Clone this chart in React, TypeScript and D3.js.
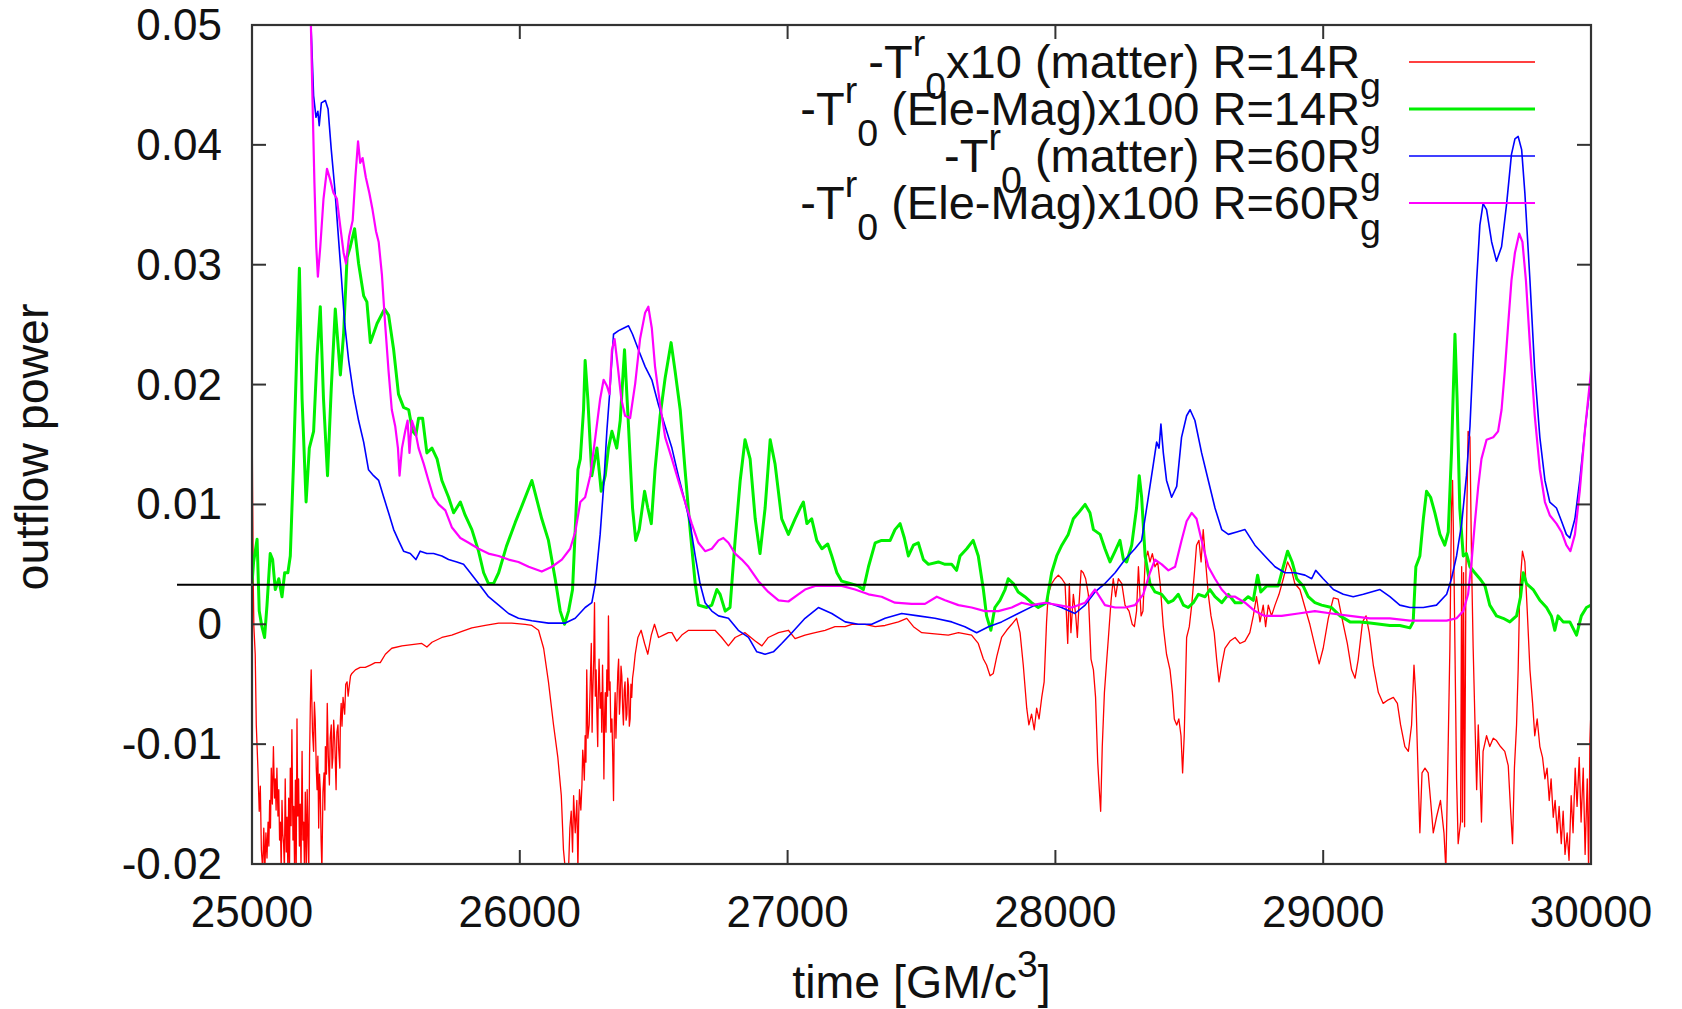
import React from "react";
import * as d3 from "d3";

type Pt = [number, number];

// Axis ticks
const TIME_TICKS = [25000, 26000, 27000, 28000, 29000, 30000];
const POWER_TICKS = [-0.02, -0.01, 0, 0.01, 0.02, 0.03, 0.04, 0.05];
const POWER_TICK_LABELS = ["-0.02", "-0.01", "0", "0.01", "0.02", "0.03", "0.04", "0.05"];

// -T^r_0 x10 (matter), R = 14 Rg   [time, power]
const matter14: Pt[] = [
  [25000, 19.2e-3], [25002, 11.5e-3], [25005, 2.9e-3], [25007, -0.2e-3], [25012, -2.5e-3], [25016, -8.4e-3],
  [25022, -12.0e-3], [25027, -15.6e-3], [25031, -13.5e-3], [25035, -18.8e-3], [25040, -20.5e-3], [25044, -17.0e-3],
  [25048, -20.5e-3], [25052, -17.4e-3], [25056, -19.5e-3], [25060, -16.5e-3], [25063, -18.5e-3], [25066, -14.7e-3],
  [25069, -17.0e-3], [25072, -12.0e-3], [25076, -15.0e-3], [25080, -10.2e-3], [25084, -14.5e-3], [25087, -12.9e-3],
  [25090, -15.5e-3], [25093, -12.0e-3], [25097, -16.0e-3], [25100, -13.8e-3], [25103, -18.0e-3], [25106, -16.5e-3],
  [25109, -20.5e-3], [25112, -14.7e-3], [25115, -17.5e-3], [25118, -18.3e-3], [25121, -20.5e-3], [25124, -12.9e-3],
  [25128, -19.0e-3], [25131, -16.1e-3], [25134, -20.5e-3], [25137, -14.5e-3], [25140, -20.5e-3], [25143, -12.0e-3],
  [25146, -16.8e-3], [25149, -8.8e-3], [25153, -18.0e-3], [25156, -15.2e-3], [25159, -20.5e-3], [25162, -13.0e-3],
  [25165, -20.5e-3], [25168, -7.9e-3], [25171, -16.0e-3], [25174, -12.9e-3], [25177, -18.5e-3], [25180, -15.0e-3],
  [25183, -20.5e-3], [25187, -10.6e-3], [25190, -18.0e-3], [25193, -16.5e-3], [25196, -20.5e-3], [25199, -14.0e-3],
  [25203, -20.5e-3], [25206, -13.8e-3], [25209, -17.5e-3], [25212, -20.5e-3], [25215, -11.0e-3], [25218, -6.6e-3],
  [25221, -3.8e-3], [25226, -9.0e-3], [25230, -10.6e-3], [25233, -6.5e-3], [25236, -7.9e-3], [25240, -12.0e-3],
  [25243, -13.8e-3], [25246, -11.0e-3], [25249, -17.0e-3], [25252, -12.5e-3], [25255, -13.8e-3], [25258, -18.0e-3],
  [25261, -20.5e-3], [25265, -14.0e-3], [25269, -12.4e-3], [25272, -15.5e-3], [25274, -10.2e-3], [25278, -12.5e-3],
  [25281, -6.6e-3], [25285, -11.0e-3], [25289, -13.4e-3], [25292, -9.5e-3], [25296, -8.4e-3], [25299, -12.0e-3],
  [25302, -11.1e-3], [25305, -8.0e-3], [25309, -9.7e-3], [25314, -13.8e-3], [25317, -9.0e-3], [25321, -8.4e-3],
  [25324, -10.5e-3], [25328, -12.0e-3], [25330, -8.0e-3], [25333, -6.6e-3], [25336, -8.5e-3], [25340, -6.1e-3],
  [25346, -7.5e-3], [25350, -5.0e-3], [25355, -4.8e-3], [25359, -6.0e-3], [25363, -5.2e-3], [25368, -4.3e-3],
  [25373, -4.1e-3], [25386, -3.8e-3], [25404, -3.6e-3], [25423, -3.6e-3], [25442, -3.4e-3], [25460, -3.2e-3],
  [25479, -3.2e-3], [25498, -2.5e-3], [25522, -2.0e-3], [25560, -1.8e-3], [25597, -1.7e-3], [25634, -1.6e-3],
  [25653, -1.9e-3], [25672, -1.5e-3], [25709, -1.1e-3], [25746, -0.9e-3], [25784, -0.6e-3], [25821, -0.3e-3],
  [25871, -0.1e-3], [25921, 0.1e-3], [25970, 0.1e-3], [26020, 0.0], [26045, -0.1e-3], [26070, -0.5e-3],
  [26089, -2.0e-3], [26107, -4.8e-3], [26126, -8.4e-3], [26142, -11.1e-3], [26155, -14.3e-3], [26163, -18.8e-3],
  [26170, -20.5e-3], [26182, -20.5e-3], [26187, -17.0e-3], [26192, -15.6e-3], [26197, -19.0e-3], [26201, -14.3e-3],
  [26207, -17.4e-3], [26213, -14.7e-3], [26217, -20.5e-3], [26220, -16.0e-3], [26223, -13.8e-3], [26228, -15.5e-3],
  [26232, -13.4e-3], [26235, -10.5e-3], [26238, -11.5e-3], [26241, -13.0e-3], [26244, -9.3e-3], [26247, -11.5e-3],
  [26250, -3.8e-3], [26254, -9.5e-3], [26259, -8.4e-3], [26263, -5.0e-3], [26267, -1.6e-3], [26270, -9.0e-3],
  [26272, -6.1e-3], [26276, -3.0e-3], [26279, 1.8e-3], [26282, -6.0e-3], [26285, -3.8e-3], [26288, -7.5e-3],
  [26291, -10.2e-3], [26293, -6.0e-3], [26296, -2.9e-3], [26300, -7.0e-3], [26304, -5.7e-3], [26306, -9.0e-3],
  [26309, -3.4e-3], [26312, -8.0e-3], [26314, -12.9e-3], [26317, -7.5e-3], [26319, -5.7e-3], [26322, -9.0e-3],
  [26325, -3.8e-3], [26328, -6.0e-3], [26331, 0.7e-3], [26334, -5.5e-3], [26337, -4.8e-3], [26340, -9.0e-3],
  [26344, -7.9e-3], [26347, -11.0e-3], [26350, -14.7e-3], [26353, -8.0e-3], [26356, -5.7e-3], [26359, -9.5e-3],
  [26362, -7.0e-3], [26366, -4.0e-3], [26369, -2.9e-3], [26372, -7.5e-3], [26375, -6.1e-3], [26378, -3.5e-3],
  [26381, -4.3e-3], [26384, -7.0e-3], [26387, -8.4e-3], [26390, -5.5e-3], [26393, -4.8e-3], [26397, -8.0e-3],
  [26400, -7.5e-3], [26403, -4.5e-3], [26406, -5.2e-3], [26409, -8.5e-3], [26412, -7.9e-3], [26415, -5.0e-3],
  [26418, -6.1e-3], [26421, -4.5e-3], [26425, -3.8e-3], [26431, -2.5e-3], [26441, -1.1e-3], [26453, -0.5e-3],
  [26466, -1.6e-3], [26478, -2.5e-3], [26491, -0.9e-3], [26503, 0.0], [26518, -1.1e-3], [26536, -0.9e-3],
  [26555, -0.7e-3], [26568, -0.7e-3], [26586, -1.4e-3], [26605, -0.9e-3], [26630, -0.5e-3], [26680, -0.5e-3],
  [26729, -0.5e-3], [26754, -1.1e-3], [26779, -1.8e-3], [26804, -1.1e-3], [26841, -0.7e-3], [26879, -1.4e-3],
  [26904, -1.8e-3], [26928, -1.1e-3], [26966, -0.7e-3], [27003, -0.5e-3], [27028, -1.2e-3], [27065, -0.9e-3],
  [27103, -0.7e-3], [27140, -0.5e-3], [27177, -0.2e-3], [27215, -0.2e-3], [27240, 0.0], [27289, 0.0],
  [27327, -0.2e-3], [27364, -0.1e-3], [27414, 0.2e-3], [27445, 0.5e-3], [27470, -0.2e-3], [27501, -0.7e-3],
  [27550, -0.8e-3], [27600, -0.9e-3], [27638, -0.7e-3], [27687, -0.9e-3], [27712, -1.6e-3], [27731, -2.9e-3],
  [27743, -3.4e-3], [27756, -4.3e-3], [27768, -4.1e-3], [27781, -2.7e-3], [27799, -1.1e-3], [27818, -0.5e-3],
  [27837, 0.0], [27855, 0.5e-3], [27868, -0.7e-3], [27880, -3.4e-3], [27893, -7.0e-3], [27901, -8.4e-3],
  [27911, -7.5e-3], [27921, -8.8e-3], [27930, -7.0e-3], [27939, -7.9e-3], [27949, -6.1e-3], [27958, -4.8e-3],
  [27967, 0.2e-3], [27973, 2.5e-3], [27986, 3.4e-3], [27998, 3.8e-3], [28011, 4.1e-3], [28024, 3.8e-3],
  [28036, 3.4e-3], [28046, -1.6e-3], [28052, 3.4e-3], [28058, -0.7e-3], [28067, 2.5e-3], [28076, 0.7e-3],
  [28082, -1.1e-3], [28088, 1.6e-3], [28096, 4.5e-3], [28104, 4.3e-3], [28113, 3.8e-3], [28123, 2.5e-3],
  [28133, -2.9e-3], [28142, -3.8e-3], [28150, -6.1e-3], [28158, -11.5e-3], [28164, -13.8e-3], [28169, -15.6e-3],
  [28175, -10.2e-3], [28183, -5.7e-3], [28192, -2.9e-3], [28198, -1.1e-3], [28208, 2.0e-3], [28216, 3.8e-3],
  [28225, 2.3e-3], [28235, 3.8e-3], [28248, 3.4e-3], [28260, 1.6e-3], [28275, 1.1e-3], [28287, 0.0],
  [28295, -0.2e-3], [28303, 1.1e-3], [28310, 4.8e-3], [28320, 0.7e-3], [28327, 1.1e-3], [28335, 5.2e-3],
  [28345, 6.1e-3], [28353, 5.2e-3], [28362, 5.9e-3], [28372, 4.8e-3], [28382, 5.2e-3], [28391, 3.4e-3],
  [28403, -0.2e-3], [28415, -2.5e-3], [28428, -3.8e-3], [28437, -5.7e-3], [28444, -7.9e-3], [28453, -8.4e-3],
  [28461, -7.9e-3], [28469, -9.3e-3], [28475, -12.4e-3], [28481, -9.3e-3], [28490, -1.1e-3], [28500, -0.2e-3],
  [28509, 1.6e-3], [28519, 4.3e-3], [28527, 6.6e-3], [28536, 7.0e-3], [28544, 5.2e-3], [28552, 7.9e-3],
  [28561, 5.2e-3], [28571, 2.5e-3], [28581, 0.7e-3], [28593, -0.7e-3], [28602, -2.9e-3], [28611, -4.8e-3],
  [28621, -3.4e-3], [28633, -2.0e-3], [28652, -1.4e-3], [28671, -1.1e-3], [28689, -1.6e-3], [28708, -1.4e-3],
  [28726, -0.7e-3], [28739, 0.7e-3], [28751, 2.3e-3], [28764, 0.2e-3], [28776, 1.6e-3], [28785, -0.2e-3],
  [28795, 1.6e-3], [28807, 0.7e-3], [28820, 1.6e-3], [28835, 2.5e-3], [28851, 3.8e-3], [28867, 5.2e-3],
  [28882, 4.5e-3], [28894, 3.4e-3], [28913, 2.9e-3], [28932, 1.4e-3], [28950, 0.0], [28969, -1.8e-3],
  [28985, -3.3e-3], [29000, -2.0e-3], [29019, 0.5e-3], [29038, 2.2e-3], [29056, 2.1e-3], [29075, 0.0],
  [29090, -1.6e-3], [29106, -3.8e-3], [29119, -4.5e-3], [29131, -2.9e-3], [29147, 0.2e-3], [29160, 0.7e-3],
  [29172, -0.7e-3], [29187, -3.4e-3], [29206, -5.7e-3], [29224, -6.6e-3], [29243, -6.3e-3], [29262, -6.1e-3],
  [29277, -6.6e-3], [29289, -8.4e-3], [29305, -10.2e-3], [29318, -10.6e-3], [29330, -8.4e-3], [29339, -3.4e-3],
  [29346, -6.1e-3], [29355, -12.9e-3], [29361, -17.4e-3], [29369, -12.4e-3], [29380, -12.0e-3], [29392, -12.4e-3],
  [29401, -14.7e-3], [29411, -17.4e-3], [29423, -16.1e-3], [29438, -14.7e-3], [29451, -17.4e-3], [29458, -20.5e-3],
  [29467, -9.7e-3], [29473, -2.0e-3], [29479, 9.7e-3], [29483, 12.0e-3], [29488, 5.2e-3], [29498, -12.9e-3],
  [29504, -18.3e-3], [29513, -16.5e-3], [29517, 4.8e-3], [29520, -16.5e-3], [29524, 4.3e-3], [29528, -16.9e-3],
  [29533, 4.3e-3], [29541, 16.1e-3], [29548, 15.6e-3], [29554, 5.2e-3], [29560, -2.0e-3], [29566, -7.5e-3],
  [29573, -13.8e-3], [29579, -8.4e-3], [29585, -12.0e-3], [29591, -16.5e-3], [29597, -10.6e-3], [29610, -9.3e-3],
  [29622, -10.2e-3], [29635, -9.5e-3], [29647, -9.7e-3], [29662, -10.2e-3], [29678, -10.6e-3], [29691, -11.8e-3],
  [29699, -15.2e-3], [29707, -18.3e-3], [29714, -12.0e-3], [29722, -8.4e-3], [29728, -3.8e-3], [29734, 2.9e-3],
  [29744, 6.1e-3], [29753, 5.2e-3], [29762, 1.1e-3], [29772, -3.8e-3], [29782, -6.6e-3], [29790, -9.3e-3],
  [29799, -7.9e-3], [29809, -10.2e-3], [29819, -11.1e-3], [29828, -12.9e-3], [29836, -12.0e-3], [29844, -14.7e-3],
  [29851, -12.9e-3], [29859, -16.1e-3], [29866, -14.7e-3], [29874, -17.4e-3], [29881, -15.2e-3], [29889, -18.3e-3],
  [29896, -15.6e-3], [29903, -19.2e-3], [29911, -17.4e-3], [29918, -19.7e-3], [29926, -14.3e-3], [29933, -17.4e-3],
  [29941, -12.0e-3], [29948, -15.2e-3], [29956, -11.1e-3], [29963, -16.5e-3], [29971, -12.0e-3], [29978, -19.2e-3],
  [29986, -12.9e-3], [29991, -20.5e-3], [29996, -9.7e-3], [30000, -7.0e-3],
];

// -T^r_0 (Ele-Mag) x100, R = 14 Rg
const em14: Pt[] = [
  [25000, 3.4e-3], [25006, 5.2e-3], [25019, 7.1e-3], [25027, 1.1e-3], [25037, -0.2e-3], [25047, -1.1e-3],
  [25056, 1.6e-3], [25068, 5.9e-3], [25077, 5.4e-3], [25087, 2.9e-3], [25100, 3.8e-3], [25112, 2.3e-3],
  [25122, 4.3e-3], [25134, 4.3e-3], [25143, 5.7e-3], [25155, 13.4e-3], [25168, 23.3e-3], [25177, 29.7e-3],
  [25187, 18.8e-3], [25202, 10.2e-3], [25214, 14.7e-3], [25230, 16.1e-3], [25243, 22.4e-3], [25255, 26.5e-3],
  [25267, 18.8e-3], [25282, 12.4e-3], [25296, 19.7e-3], [25311, 26.3e-3], [25330, 20.8e-3], [25342, 24.2e-3],
  [25355, 30.6e-3], [25367, 31.5e-3], [25383, 33.0e-3], [25398, 30.1e-3], [25417, 27.4e-3], [25429, 26.9e-3],
  [25442, 23.5e-3], [25467, 25.1e-3], [25495, 26.3e-3], [25510, 25.8e-3], [25529, 22.9e-3], [25547, 19.2e-3],
  [25566, 18.1e-3], [25585, 17.9e-3], [25600, 16.1e-3], [25612, 15.8e-3], [25622, 17.2e-3], [25637, 17.2e-3],
  [25653, 14.3e-3], [25672, 14.7e-3], [25691, 13.8e-3], [25709, 12.0e-3], [25734, 10.6e-3], [25753, 9.3e-3],
  [25778, 10.2e-3], [25796, 9.1e-3], [25821, 7.9e-3], [25846, 6.1e-3], [25865, 4.3e-3], [25883, 3.4e-3],
  [25902, 3.4e-3], [25921, 4.3e-3], [25950, 6.5e-3], [25983, 8.5e-3], [26010, 10.0e-3], [26045, 12.0e-3],
  [26082, 8.8e-3], [26107, 7.0e-3], [26132, 3.8e-3], [26151, 1.1e-3], [26167, 0.0], [26182, 1.1e-3],
  [26197, 2.9e-3], [26207, 7.9e-3], [26217, 12.9e-3], [26226, 13.8e-3], [26238, 17.9e-3], [26244, 22.0e-3],
  [26254, 18.8e-3], [26269, 12.4e-3], [26288, 14.7e-3], [26304, 11.1e-3], [26319, 12.4e-3], [26331, 14.7e-3],
  [26344, 16.1e-3], [26362, 14.7e-3], [26375, 17.0e-3], [26391, 22.9e-3], [26406, 16.5e-3], [26421, 9.7e-3],
  [26433, 7.0e-3], [26446, 7.9e-3], [26466, 11.1e-3], [26478, 9.7e-3], [26491, 8.4e-3], [26505, 12.9e-3],
  [26524, 17.4e-3], [26543, 20.6e-3], [26565, 23.5e-3], [26580, 21.1e-3], [26599, 17.9e-3], [26617, 12.9e-3],
  [26636, 7.9e-3], [26655, 3.4e-3], [26667, 1.6e-3], [26698, 1.4e-3], [26717, 1.6e-3], [26736, 2.9e-3],
  [26748, 2.5e-3], [26767, 1.1e-3], [26785, 1.4e-3], [26804, 7.0e-3], [26823, 12.0e-3], [26841, 15.4e-3],
  [26860, 13.8e-3], [26879, 8.8e-3], [26897, 5.9e-3], [26916, 9.7e-3], [26935, 15.4e-3], [26953, 13.4e-3],
  [26978, 8.8e-3], [27003, 7.5e-3], [27028, 8.8e-3], [27047, 9.7e-3], [27059, 10.2e-3], [27072, 8.4e-3],
  [27090, 8.8e-3], [27109, 7.0e-3], [27128, 6.3e-3], [27150, 6.7e-3], [27165, 5.7e-3], [27184, 4.3e-3],
  [27202, 3.6e-3], [27233, 3.4e-3], [27264, 3.2e-3], [27283, 2.9e-3], [27302, 4.8e-3], [27327, 6.8e-3],
  [27351, 7.0e-3], [27383, 7.0e-3], [27401, 7.9e-3], [27420, 8.4e-3], [27436, 7.2e-3], [27451, 5.7e-3],
  [27470, 6.6e-3], [27488, 6.8e-3], [27507, 5.4e-3], [27526, 5.0e-3], [27563, 5.2e-3], [27588, 5.0e-3],
  [27613, 5.0e-3], [27631, 4.5e-3], [27644, 5.7e-3], [27669, 6.3e-3], [27693, 7.0e-3], [27712, 5.7e-3],
  [27731, 2.9e-3], [27743, 0.7e-3], [27759, -0.5e-3], [27774, 1.4e-3], [27793, 2.0e-3], [27812, 2.9e-3],
  [27824, 3.8e-3], [27843, 3.4e-3], [27861, 2.7e-3], [27886, 2.3e-3], [27911, 1.8e-3], [27936, 1.4e-3],
  [27967, 1.8e-3], [27986, 4.3e-3], [28005, 5.7e-3], [28024, 6.6e-3], [28048, 7.5e-3], [28067, 8.8e-3],
  [28086, 9.3e-3], [28111, 10.0e-3], [28129, 9.3e-3], [28142, 7.9e-3], [28167, 7.5e-3], [28185, 6.3e-3],
  [28204, 5.2e-3], [28223, 6.1e-3], [28241, 7.0e-3], [28254, 5.4e-3], [28266, 5.2e-3], [28285, 6.6e-3],
  [28303, 9.7e-3], [28313, 12.4e-3], [28322, 10.6e-3], [28335, 5.7e-3], [28353, 3.4e-3], [28372, 2.7e-3],
  [28397, 2.5e-3], [28422, 1.8e-3], [28440, 2.0e-3], [28459, 2.5e-3], [28478, 1.6e-3], [28496, 1.4e-3],
  [28515, 1.8e-3], [28534, 2.5e-3], [28559, 2.3e-3], [28577, 2.9e-3], [28596, 2.3e-3], [28621, 1.8e-3],
  [28646, 2.5e-3], [28671, 1.8e-3], [28695, 1.8e-3], [28720, 2.3e-3], [28739, 2.0e-3], [28755, 4.1e-3],
  [28767, 2.7e-3], [28789, 3.2e-3], [28814, 3.2e-3], [28832, 3.2e-3], [28851, 4.8e-3], [28867, 6.1e-3],
  [28884, 5.2e-3], [28901, 3.8e-3], [28925, 3.2e-3], [28944, 2.3e-3], [28969, 1.8e-3], [28994, 1.6e-3],
  [29031, 1.4e-3], [29063, 0.7e-3], [29100, 0.2e-3], [29137, 0.2e-3], [29175, 0.1e-3], [29212, 0.0],
  [29249, -0.1e-3], [29286, -0.1e-3], [29324, -0.3e-3], [29336, 0.2e-3], [29346, 4.8e-3], [29361, 5.7e-3],
  [29374, 8.8e-3], [29386, 11.1e-3], [29401, 10.6e-3], [29417, 9.3e-3], [29436, 7.5e-3], [29454, 6.6e-3],
  [29467, 7.7e-3], [29479, 14.3e-3], [29492, 24.2e-3], [29500, 18.8e-3], [29510, 9.7e-3], [29523, 5.7e-3],
  [29535, 5.9e-3], [29548, 4.8e-3], [29566, 4.3e-3], [29585, 3.8e-3], [29604, 3.2e-3], [29622, 1.6e-3],
  [29647, 0.7e-3], [29672, 0.5e-3], [29697, 0.2e-3], [29722, 0.7e-3], [29737, 2.3e-3], [29747, 4.3e-3],
  [29759, 3.4e-3], [29784, 2.9e-3], [29809, 2.0e-3], [29834, 1.4e-3], [29852, 0.7e-3], [29865, -0.5e-3],
  [29877, 0.7e-3], [29896, 0.2e-3], [29921, 0.2e-3], [29946, -0.9e-3], [29964, 0.7e-3], [29983, 1.4e-3],
  [30000, 1.6e-3],
];

// -T^r_0 (matter), R = 60 Rg
const matter60: Pt[] = [
  [25000, 90e-3], [25210, 56e-3], [25224, 47.8e-3], [25230, 44.1e-3], [25239, 42.3e-3], [25246, 42.8e-3],
  [25251, 41.6e-3], [25259, 43.5e-3], [25274, 43.7e-3], [25284, 43.0e-3], [25296, 39.6e-3], [25309, 36.4e-3],
  [25321, 32.8e-3], [25333, 29.2e-3], [25346, 25.1e-3], [25361, 22.0e-3], [25379, 19.2e-3], [25398, 17.0e-3],
  [25417, 15.2e-3], [25435, 12.9e-3], [25454, 12.4e-3], [25473, 12.0e-3], [25492, 10.6e-3], [25510, 9.3e-3],
  [25529, 7.9e-3], [25547, 7.0e-3], [25566, 6.1e-3], [25591, 5.9e-3], [25612, 5.4e-3], [25628, 6.1e-3],
  [25653, 5.9e-3], [25678, 5.9e-3], [25709, 5.7e-3], [25734, 5.4e-3], [25765, 5.2e-3], [25790, 5.0e-3],
  [25815, 4.3e-3], [25846, 3.4e-3], [25883, 2.3e-3], [25921, 1.6e-3], [25958, 0.9e-3], [25995, 0.5e-3],
  [26045, 0.3e-3], [26107, 0.1e-3], [26170, 0.1e-3], [26207, 0.5e-3], [26244, 1.4e-3], [26269, 1.8e-3],
  [26282, 3.4e-3], [26300, 7.5e-3], [26313, 11.5e-3], [26325, 16.1e-3], [26337, 19.7e-3], [26350, 24.2e-3],
  [26369, 24.5e-3], [26387, 24.7e-3], [26406, 24.9e-3], [26421, 24.2e-3], [26443, 22.9e-3], [26468, 21.5e-3],
  [26493, 20.4e-3], [26518, 18.3e-3], [26543, 16.5e-3], [26568, 14.7e-3], [26592, 12.4e-3], [26617, 10.2e-3],
  [26636, 8.4e-3], [26655, 5.7e-3], [26673, 3.4e-3], [26692, 1.8e-3], [26717, 1.1e-3], [26742, 0.7e-3],
  [26779, 0.5e-3], [26816, -0.5e-3], [26854, -1.1e-3], [26885, -2.3e-3], [26916, -2.5e-3], [26947, -2.3e-3],
  [26978, -1.6e-3], [27016, -0.7e-3], [27065, 0.5e-3], [27115, 1.4e-3], [27165, 0.9e-3], [27215, 0.2e-3],
  [27264, 0.0], [27314, 0.0], [27364, 0.5e-3], [27426, 0.9e-3], [27488, 0.7e-3], [27550, 0.5e-3],
  [27613, 0.2e-3], [27662, -0.2e-3], [27706, -0.7e-3], [27750, -0.2e-3], [27799, 0.2e-3], [27861, 0.9e-3],
  [27924, 1.6e-3], [27973, 1.8e-3], [28023, 1.4e-3], [28073, 0.9e-3], [28111, 1.6e-3], [28148, 2.7e-3],
  [28185, 3.4e-3], [28223, 4.3e-3], [28260, 5.4e-3], [28297, 6.3e-3], [28322, 7.0e-3], [28347, 10.6e-3],
  [28366, 13.4e-3], [28378, 15.2e-3], [28387, 14.7e-3], [28394, 16.7e-3], [28403, 14.3e-3], [28415, 12.0e-3],
  [28434, 10.6e-3], [28453, 11.5e-3], [28471, 15.6e-3], [28490, 17.4e-3], [28503, 17.9e-3], [28521, 17.0e-3],
  [28546, 14.3e-3], [28571, 12.0e-3], [28596, 9.7e-3], [28621, 7.9e-3], [28646, 7.5e-3], [28677, 7.7e-3],
  [28708, 7.9e-3], [28745, 6.6e-3], [28782, 5.7e-3], [28820, 4.8e-3], [28857, 4.3e-3], [28894, 4.3e-3],
  [28932, 4.1e-3], [28957, 3.8e-3], [28972, 4.5e-3], [29000, 3.8e-3], [29038, 2.9e-3], [29075, 2.5e-3],
  [29112, 2.3e-3], [29150, 2.5e-3], [29212, 2.9e-3], [29249, 2.3e-3], [29286, 1.6e-3], [29324, 1.4e-3],
  [29374, 1.4e-3], [29423, 1.6e-3], [29461, 2.5e-3], [29479, 3.8e-3], [29498, 5.7e-3], [29517, 8.4e-3],
  [29535, 12.4e-3], [29548, 16.5e-3], [29560, 22.4e-3], [29573, 28.7e-3], [29585, 33.3e-3], [29597, 35.1e-3],
  [29610, 34.6e-3], [29629, 31.9e-3], [29647, 30.3e-3], [29666, 31.5e-3], [29685, 35.1e-3], [29703, 39.2e-3],
  [29716, 40.5e-3], [29728, 40.7e-3], [29741, 39.6e-3], [29753, 36.0e-3], [29772, 28.7e-3], [29790, 21.1e-3],
  [29809, 15.6e-3], [29828, 12.0e-3], [29846, 10.2e-3], [29871, 9.7e-3], [29890, 8.6e-3], [29908, 7.5e-3],
  [29921, 7.2e-3], [29940, 8.8e-3], [29958, 12.0e-3], [29977, 16.1e-3], [30000, 20.6e-3],
];

// -T^r_0 (Ele-Mag) x100, R = 60 Rg
const em60: Pt[] = [
  [25000, 90e-3], [25210, 58e-3], [25218, 52e-3], [25226, 43.7e-3], [25233, 36.9e-3], [25240, 31.5e-3],
  [25246, 29.0e-3], [25255, 31.5e-3], [25267, 35.5e-3], [25280, 38.0e-3], [25292, 37.1e-3], [25304, 36.0e-3],
  [25317, 35.5e-3], [25329, 33.3e-3], [25342, 31.0e-3], [25351, 30.1e-3], [25363, 32.4e-3], [25376, 33.7e-3],
  [25386, 37.3e-3], [25396, 40.3e-3], [25404, 38.5e-3], [25413, 38.9e-3], [25425, 37.3e-3], [25438, 36.0e-3],
  [25450, 34.6e-3], [25463, 32.8e-3], [25473, 31.9e-3], [25485, 29.2e-3], [25497, 25.1e-3], [25510, 21.1e-3],
  [25522, 17.9e-3], [25535, 16.5e-3], [25545, 14.7e-3], [25551, 12.4e-3], [25560, 14.7e-3], [25572, 16.1e-3],
  [25581, 17.0e-3], [25588, 14.3e-3], [25597, 17.0e-3], [25610, 16.1e-3], [25622, 14.7e-3], [25641, 13.4e-3],
  [25659, 12.0e-3], [25678, 10.6e-3], [25697, 10.0e-3], [25722, 9.5e-3], [25746, 8.1e-3], [25778, 7.2e-3],
  [25809, 6.8e-3], [25846, 6.3e-3], [25883, 5.9e-3], [25921, 5.7e-3], [25958, 5.4e-3], [25995, 5.2e-3],
  [26033, 4.8e-3], [26082, 4.4e-3], [26120, 4.8e-3], [26157, 5.4e-3], [26188, 6.3e-3], [26207, 7.7e-3],
  [26226, 10.2e-3], [26244, 10.6e-3], [26263, 12.4e-3], [26282, 15.6e-3], [26300, 18.8e-3], [26313, 20.4e-3],
  [26325, 19.9e-3], [26335, 19.2e-3], [26344, 22.9e-3], [26354, 23.8e-3], [26366, 21.5e-3], [26379, 18.8e-3],
  [26393, 17.4e-3], [26412, 17.2e-3], [26431, 20.1e-3], [26449, 23.8e-3], [26468, 26.0e-3], [26480, 26.5e-3],
  [26493, 24.7e-3], [26505, 21.5e-3], [26524, 18.3e-3], [26543, 15.6e-3], [26568, 13.8e-3], [26592, 12.0e-3],
  [26617, 10.2e-3], [26642, 8.4e-3], [26667, 6.8e-3], [26692, 6.1e-3], [26717, 6.3e-3], [26742, 7.0e-3],
  [26760, 7.2e-3], [26779, 6.8e-3], [26804, 5.9e-3], [26829, 5.4e-3], [26854, 4.8e-3], [26891, 3.6e-3],
  [26928, 2.7e-3], [26966, 2.0e-3], [27003, 1.9e-3], [27040, 2.5e-3], [27065, 2.9e-3], [27103, 3.2e-3],
  [27152, 3.2e-3], [27202, 3.2e-3], [27252, 2.9e-3], [27302, 2.5e-3], [27351, 2.3e-3], [27401, 1.8e-3],
  [27463, 1.7e-3], [27513, 1.7e-3], [27557, 2.3e-3], [27588, 2.0e-3], [27638, 1.6e-3], [27687, 1.4e-3],
  [27737, 1.1e-3], [27787, 1.1e-3], [27837, 1.4e-3], [27874, 1.8e-3], [27911, 1.6e-3], [27961, 1.8e-3],
  [28011, 1.6e-3], [28061, 1.4e-3], [28111, 1.8e-3], [28148, 2.9e-3], [28185, 1.6e-3], [28223, 1.4e-3],
  [28260, 1.4e-3], [28297, 1.6e-3], [28328, 2.5e-3], [28353, 4.3e-3], [28372, 5.4e-3], [28397, 5.0e-3],
  [28422, 4.5e-3], [28447, 4.8e-3], [28471, 7.0e-3], [28490, 8.6e-3], [28509, 9.3e-3], [28527, 8.8e-3],
  [28546, 7.0e-3], [28571, 4.8e-3], [28596, 3.8e-3], [28621, 2.9e-3], [28646, 2.3e-3], [28671, 2.3e-3],
  [28708, 1.8e-3], [28745, 1.1e-3], [28782, 0.7e-3], [28845, 0.7e-3], [28907, 0.9e-3], [28969, 1.1e-3],
  [29031, 0.9e-3], [29100, 0.7e-3], [29175, 0.5e-3], [29249, 0.5e-3], [29324, 0.3e-3], [29398, 0.3e-3],
  [29461, 0.3e-3], [29498, 0.5e-3], [29523, 1.1e-3], [29541, 2.5e-3], [29554, 5.2e-3], [29566, 8.4e-3],
  [29579, 11.5e-3], [29591, 13.8e-3], [29610, 15.4e-3], [29635, 15.6e-3], [29653, 16.1e-3], [29666, 17.9e-3],
  [29678, 21.1e-3], [29691, 25.1e-3], [29703, 28.7e-3], [29716, 31.0e-3], [29732, 32.6e-3], [29744, 31.9e-3],
  [29757, 28.7e-3], [29772, 23.3e-3], [29790, 17.4e-3], [29809, 12.9e-3], [29828, 10.2e-3], [29846, 9.1e-3],
  [29871, 8.4e-3], [29890, 7.7e-3], [29908, 6.6e-3], [29923, 6.1e-3], [29940, 7.5e-3], [29958, 11.1e-3],
  [29977, 16.1e-3], [30000, 21.1e-3],
];

// Horizontal reference level drawn across the panel
const REF_LEVEL = 3.3e-3;
const REF_SPAN = [24720, 29745];

const SERIES = [
  { key: "m14", data: matter14, color: "#ff0000", width: 1.3, label: "x10 (matter) R=14R" },
  { key: "e14", data: em14, color: "#00f000", width: 3, label: " (Ele-Mag)x100 R=14R" },
  { key: "m60", data: matter60, color: "#0000ff", width: 1.6, label: " (matter)  R=60R" },
  { key: "e60", data: em60, color: "#ff00ff", width: 2.2, label: " (Ele-Mag)x100 R=60R" },
];

const W = 1682;
const H = 1009;
const PLOT = { left: 252, right: 1591, top: 25, bottom: 864 };
const FONT = "'Liberation Sans', Arial, Helvetica, sans-serif";
const FS = 44; // tick labels
const FS_TITLE = 46.5; // axis titles
const FS_KEY = 47; // legend
const TICK = 14;

export default function App() {
  const x = d3.scaleLinear().domain([25000, 30000]).range([PLOT.left, PLOT.right]);
  const y = d3.scaleLinear().domain([-0.02, 0.05]).range([PLOT.bottom, PLOT.top]);
  const line = d3
    .line<Pt>()
    .x((d) => x(d[0]))
    .y((d) => y(d[1]));

  const legendTextX = 1381;
  const legendLineX = [1409, 1535];
  const legendY0 = 62;
  const legendDy = 47;
  const small = FS_KEY * 0.8;

  return (
    <svg
      width={W}
      height={H}
      viewBox={`0 0 ${W} ${H}`}
      style={{ position: "absolute", left: 0, top: 0, background: "#fff", fontFamily: FONT }}
    >
      <defs>
        <clipPath id="plot-clip">
          <rect x={PLOT.left} y={PLOT.top} width={PLOT.right - PLOT.left} height={PLOT.bottom - PLOT.top} />
        </clipPath>
      </defs>
      <rect x={0} y={0} width={W} height={H} fill="#fff" />

      {/* data curves */}
      <g clipPath="url(#plot-clip)" fill="none" strokeLinejoin="round">
        {SERIES.map((s) => (
          <path key={s.key} d={line(s.data) || ""} stroke={s.color} strokeWidth={s.width} />
        ))}
      </g>

      {/* reference level */}
      <line
        x1={x(REF_SPAN[0])}
        x2={x(REF_SPAN[1])}
        y1={y(REF_LEVEL)}
        y2={y(REF_LEVEL)}
        stroke="#000"
        strokeWidth={1.8}
      />

      {/* frame and ticks */}
      <rect
        x={PLOT.left}
        y={PLOT.top}
        width={PLOT.right - PLOT.left}
        height={PLOT.bottom - PLOT.top}
        fill="none"
        stroke="#333"
        strokeWidth={2.2}
      />
      <g stroke="#333" strokeWidth={2}>
        {TIME_TICKS.map((t) => (
          <g key={`xt${t}`}>
            <line x1={x(t)} x2={x(t)} y1={PLOT.bottom} y2={PLOT.bottom - TICK} />
            <line x1={x(t)} x2={x(t)} y1={PLOT.top} y2={PLOT.top + TICK} />
          </g>
        ))}
        {POWER_TICKS.map((v) => (
          <g key={`yt${v}`}>
            <line x1={PLOT.left} x2={PLOT.left + TICK} y1={y(v)} y2={y(v)} />
            <line x1={PLOT.right} x2={PLOT.right - TICK} y1={y(v)} y2={y(v)} />
          </g>
        ))}
      </g>

      {/* tick labels */}
      <g fontSize={FS} fill="#111">
        {TIME_TICKS.map((t) => (
          <text key={`xl${t}`} x={x(t)} y={927} textAnchor="middle">
            {t}
          </text>
        ))}
        {POWER_TICKS.map((v, i) => (
          <text key={`yl${v}`} x={222} y={y(v) + 15} textAnchor="end">
            {POWER_TICK_LABELS[i]}
          </text>
        ))}
      </g>

      {/* axis titles */}
      <text x={(PLOT.left + PLOT.right) / 2} y={998} fontSize={FS_TITLE} textAnchor="middle" fill="#111">
        time [GM/c
        <tspan fontSize={FS_TITLE * 0.8} dy={-21}>
          3
        </tspan>
        <tspan dy={21}>]</tspan>
      </text>
      <text transform="translate(48,447) rotate(-90)" fontSize={FS_TITLE} textAnchor="middle" fill="#111">
        outflow power
      </text>

      {/* legend */}
      <g fontSize={FS_KEY} fill="#111" style={{ whiteSpace: "pre" }}>
        {SERIES.map((s, i) => {
          const ly = legendY0 + i * legendDy;
          return (
            <g key={`lg${s.key}`}>
              <text x={legendTextX} y={ly + 16} textAnchor="end">
                -T
                <tspan fontSize={small} dy={-22}>
                  r
                </tspan>
                <tspan fontSize={small} dy={43}>
                  0
                </tspan>
                <tspan dy={-21}>{s.label}</tspan>
                <tspan fontSize={small} dy={21}>
                  g
                </tspan>
              </text>
              <line x1={legendLineX[0]} x2={legendLineX[1]} y1={ly} y2={ly} stroke={s.color} strokeWidth={s.width} />
            </g>
          );
        })}
      </g>
    </svg>
  );
}
